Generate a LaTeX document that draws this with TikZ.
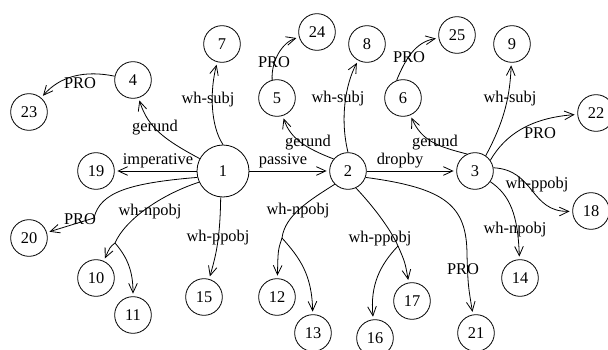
\documentclass[tikz,border=0pt]{standalone}
\usepackage{fontspec}
\setmainfont{Liberation Serif}
\usetikzlibrary{arrows.meta}
\begin{document}
\begin{tikzpicture}[x=0.75pt,y=-0.75pt,
  every node/.style={font=\fontsize{12.3pt}{14pt}\selectfont},
  st/.style={draw,circle,line width=0.6pt,minimum size=27.5pt,inner sep=0pt},
  big/.style={st,minimum size=39pt},
  lbl/.style={inner sep=0pt},
  e/.style={line width=0.6pt,-{Straight Barb[length=7pt,width=6.5pt,line width=0.6pt]},shorten >=2pt}]
\useasboundingbox (0,0) rectangle (608,350);
% nodes
\node[big] (n1) at (223,171) {1};
\node[st] (n2) at (348,171) {2};
\node[st] (n3) at (475,171) {3};
\node[st] (n4) at (133,80) {4};
\node[st] (n5) at (277,98) {5};
\node[st] (n6) at (403,98) {6};
\node[st] (n7) at (222,44) {7};
\node[st] (n8) at (367,44) {8};
\node[st] (n9) at (512,44) {9};
\node[st] (n10) at (96,278) {10};
\node[st] (n11) at (133,315) {11};
\node[st] (n12) at (277,297) {12};
\node[st] (n13) at (313,333) {13};
\node[st] (n14) at (520,278) {14};
\node[st] (n15) at (204,297) {15};
\node[st] (n16) at (375,338) {16};
\node[st] (n17) at (412,301) {17};
\node[st] (n18) at (591,211) {18};
\node[st] (n19) at (96,171) {19};
\node[st] (n20) at (29,238) {20};
\node[st] (n21) at (476,333) {21};
\node[st] (n22) at (596,113) {22};
\node[st] (n23) at (29,112) {23};
\node[st] (n24) at (317,32) {24};
\node[st] (n25) at (457,35) {25};
% branch points
\coordinate (b1) at (115,243);
\coordinate (b2) at (282,238);
\coordinate (b3) at (398,246);
\coordinate (k1) at (94,218);
\coordinate (k2) at (467,255);
% edges from 1
\draw[e] (n1) -- (n19);
\draw[e] (n1.152) .. controls (165,140) and (148,128) .. (n4);
\draw[e] (n4) .. controls (85,70) and (60,76) .. (n23);
\draw[e] (n1.north) .. controls (210,125) and (210,90) .. (n7);
\draw[e] (n1) -- (n2);
\draw[e] (n1.194) .. controls (130,183) and (100,192) .. (k1) -- (n20);
\draw[e] (n1.205) .. controls (160,195) and (125,220) .. (b1) .. controls (110,247) .. (n10);
\draw[e] (b1) .. controls (128,258) and (133,272) .. (n11);
\draw[e] (n1.265) .. controls (220,240) and (216,255) .. (n15);
% edges from 2
\draw[e] (n2.140) .. controls (305,148) and (290,138) .. (n5);
\draw[e] (n5.105) .. controls (271,60) and (283,42) .. (n24);
\draw[e] (n2.north) .. controls (340,120) and (345,85) .. (n8);
\draw[e] (n2) -- (n3);
\draw[e] (n2.225) .. controls (310,200) and (285,215) .. (b2) .. controls (278,250) .. (n12);
\draw[e] (b2) .. controls (300,258) and (312,275) .. (n13);
\draw[e] (n2.295) .. controls (372,205) and (390,228) .. (b3) .. controls (405,262) .. (n17);
\draw[e] (b3) .. controls (380,265) and (370,285) .. (n16);
\draw[e] (n2.340) .. controls (445,188) and (467,205) .. (k2) .. controls (468,285) .. (n21);
% edges from 3
\draw[e] (n3.115) .. controls (440,147) and (422,142) .. (n6);
\draw[e] (n6.110) .. controls (405,60) and (415,42) .. (n25);
\draw[e] (n3.55) .. controls (505,120) and (510,95) .. (n9);
\draw[e] (n3.35) .. controls (505,135) and (530,118) .. (n22);
\draw[e] (n3.10) .. controls (535,170) and (530,212) .. (n18);
\draw[e] (n3.325) .. controls (510,195) and (518,215) .. (n14);
% labels
\node[lbl] (l1) at (158,161) {imperative};
\node[lbl] (l2) at (283,161) {passive};
\node[lbl] (l3) at (400,161) {dropby};
\node[lbl] (l4) at (155,128) {gerund};
\node[lbl] (l5) at (80,83) {PRO};
\node[lbl] (l6) at (208,100) {wh-subj};
\node[lbl] (l7) at (80,219) {PRO};
\node[lbl] (l8) at (150,212) {wh-npobj};
\node[lbl] (l9) at (218,238) {wh-ppobj};
\node[lbl] (l10) at (308,143) {gerund};
\node[lbl] (l11) at (274,62) {PRO};
\node[lbl] (l12) at (338,99) {wh-subj};
\node[lbl] (l13) at (298,211) {wh-npobj};
\node[lbl] (l14) at (380,239) {wh-ppobj};
\node[lbl] (l15) at (463,269) {PRO};
\node[lbl] (l16) at (435,143) {gerund};
\node[lbl] (l17) at (409,57) {PRO};
\node[lbl] (l18) at (510,99) {wh-subj};
\node[lbl] (l19) at (540,133) {PRO};
\node[lbl] (l20) at (537,185) {wh-ppobj};
\node[lbl] (l21) at (515,230) {wh-npobj};
\end{tikzpicture}
\end{document}
